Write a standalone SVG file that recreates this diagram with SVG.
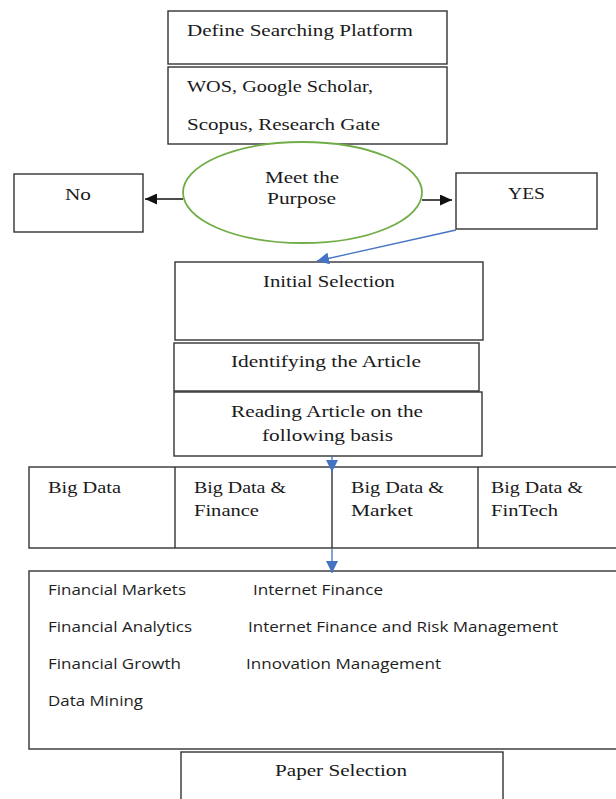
<svg xmlns="http://www.w3.org/2000/svg" width="616" height="799" viewBox="0 0 616 799">
<style>
.box{fill:#fff;stroke:#333;stroke-width:1.4}
.s{font-family:"Liberation Serif","DejaVu Serif",serif;font-size:17px;fill:#1a1a1a}
.c{font-family:"Open Sans","Liberation Sans",sans-serif;font-size:15px;fill:#1e1e1e}
.blk{stroke:#111;stroke-width:1.5;fill:none}
.blu{stroke:#4472C4;stroke-width:1.3;fill:none}
</style>
<defs>
<marker id="ab" markerUnits="userSpaceOnUse" markerWidth="13" markerHeight="11" refX="12" refY="5.5" orient="auto">
<path d="M0,0 L12,5.5 L0,11 Z" fill="#111"/>
</marker>
<marker id="au" markerUnits="userSpaceOnUse" markerWidth="13" markerHeight="12" refX="12" refY="6" orient="auto">
<path d="M0,0 L12,6 L0,12 Z" fill="#4472C4"/>
</marker>
</defs>
<rect width="616" height="799" fill="#fff"/>

<g id="define">
<rect class="box" x="168" y="11" width="279" height="53"/>
<text class="s" x="187" y="36" textLength="226" lengthAdjust="spacingAndGlyphs">Define Searching Platform</text>
</g>
<g id="platforms">
<rect class="box" x="168" y="67" width="279" height="77"/>
<text class="s" x="187" y="92" textLength="186" lengthAdjust="spacingAndGlyphs">WOS, Google Scholar,</text>
<text class="s" x="187" y="130" textLength="193" lengthAdjust="spacingAndGlyphs">Scopus, Research Gate</text>
</g>
<g id="purpose">
<ellipse cx="302.5" cy="192.5" rx="119.5" ry="50.5" fill="#fff" stroke="#70AD47" stroke-width="1.8"/>
<text class="s" x="265" y="183" textLength="74" lengthAdjust="spacingAndGlyphs">Meet the</text>
<text class="s" x="267" y="204" textLength="69" lengthAdjust="spacingAndGlyphs">Purpose</text>
</g>
<g id="no">
<rect class="box" x="14" y="174" width="129" height="58"/>
<text class="s" x="65" y="200" textLength="26" lengthAdjust="spacingAndGlyphs">No</text>
</g>
<g id="yes">
<rect class="box" x="456" y="173" width="141" height="56"/>
<text class="s" x="508" y="199" textLength="37" lengthAdjust="spacingAndGlyphs">YES</text>
</g>
<g id="initial">
<rect class="box" x="175" y="262" width="308" height="78"/>
<text class="s" x="263" y="287" textLength="132" lengthAdjust="spacingAndGlyphs">Initial Selection</text>
</g>
<g id="identifying">
<rect class="box" x="174" y="343" width="305" height="48"/>
<text class="s" x="231" y="367" textLength="190" lengthAdjust="spacingAndGlyphs">Identifying the Article</text>
</g>
<g id="reading">
<rect class="box" x="174" y="392" width="308" height="64"/>
<text class="s" x="231" y="417" textLength="192" lengthAdjust="spacingAndGlyphs">Reading Article on the</text>
<text class="s" x="262" y="441" textLength="131" lengthAdjust="spacingAndGlyphs">following basis</text>
</g>
<g id="categories">
<rect class="box" x="29" y="467" width="600" height="81"/>
<line x1="175" y1="467" x2="175" y2="548" stroke="#333" stroke-width="1.4"/>
<line x1="332" y1="467" x2="332" y2="548" stroke="#333" stroke-width="1.4"/>
<line x1="478" y1="467" x2="478" y2="548" stroke="#333" stroke-width="1.4"/>
<text class="s" x="48" y="493" textLength="73" lengthAdjust="spacingAndGlyphs">Big Data</text>
<text class="s" x="194" y="493" textLength="92" lengthAdjust="spacingAndGlyphs">Big Data &amp;</text>
<text class="s" x="194" y="516" textLength="65" lengthAdjust="spacingAndGlyphs">Finance</text>
<text class="s" x="351" y="493" textLength="93" lengthAdjust="spacingAndGlyphs">Big Data &amp;</text>
<text class="s" x="351" y="516" textLength="62" lengthAdjust="spacingAndGlyphs">Market</text>
<text class="s" x="491" y="493" textLength="92" lengthAdjust="spacingAndGlyphs">Big Data &amp;</text>
<text class="s" x="491" y="516" textLength="67" lengthAdjust="spacingAndGlyphs">FinTech</text>
</g>
<g id="topics">
<rect class="box" x="29" y="571" width="600" height="178"/>
<text class="c" x="48" y="595" textLength="138" lengthAdjust="spacingAndGlyphs">Financial Markets</text>
<text class="c" x="48" y="632" textLength="144" lengthAdjust="spacingAndGlyphs">Financial Analytics</text>
<text class="c" x="48" y="669" textLength="133" lengthAdjust="spacingAndGlyphs">Financial Growth</text>
<text class="c" x="48" y="706" textLength="95" lengthAdjust="spacingAndGlyphs">Data Mining</text>
<text class="c" x="253" y="595" textLength="130" lengthAdjust="spacingAndGlyphs">Internet Finance</text>
<text class="c" x="248" y="632" textLength="310" lengthAdjust="spacingAndGlyphs">Internet Finance and Risk Management</text>
<text class="c" x="246" y="669" textLength="195" lengthAdjust="spacingAndGlyphs">Innovation Management</text>
</g>
<g id="paper">
<rect class="box" x="181" y="752" width="322" height="60"/>
<text class="s" x="275" y="776" textLength="132" lengthAdjust="spacingAndGlyphs">Paper Selection</text>
</g>

<g id="connectors">
<line class="blk" x1="183" y1="199" x2="145" y2="199" marker-end="url(#ab)"/>
<line class="blk" x1="422" y1="200" x2="452" y2="200" marker-end="url(#ab)"/>
<line class="blu" x1="456" y1="230" x2="317" y2="261" marker-end="url(#au)"/>
<line class="blu" x1="332" y1="456" x2="332" y2="472" marker-end="url(#au)"/>
<line class="blu" x1="332" y1="549" x2="332" y2="573" marker-end="url(#au)"/>
</g>
</svg>
